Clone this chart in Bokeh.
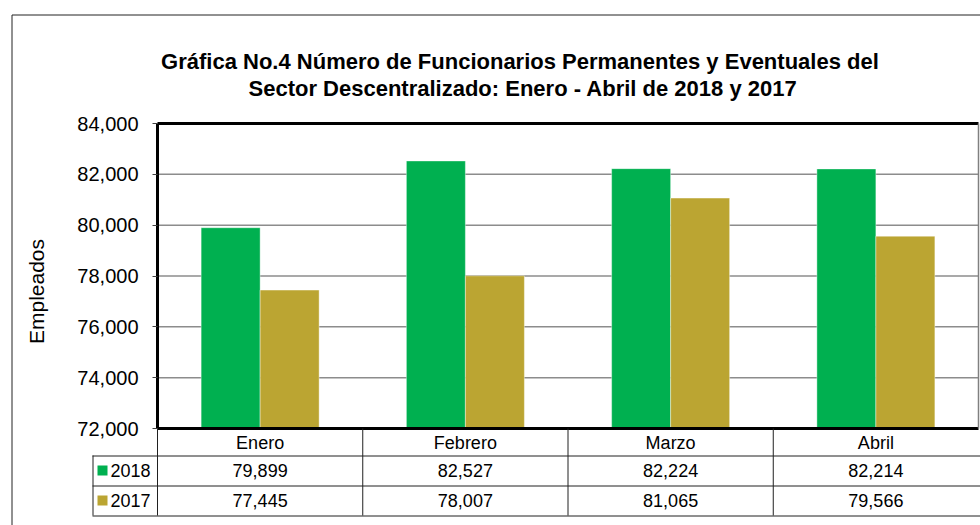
import math
from bokeh.plotting import figure
from bokeh.models import Range1d, FixedTicker, NumeralTickFormatter
from bokeh.core.properties import value
from bokeh.embed import file_html
from bokeh.resources import INLINE

# ---------------- data ----------------
months = ["Enero", "Febrero", "Marzo", "Abril"]
serie_2018 = [79899, 82527, 82224, 82214]
serie_2017 = [77445, 78007, 81065, 79566]
series_names = ["2018", "2017"]
y_ticks = [72000, 74000, 76000, 78000, 80000, 82000, 84000]
title_lines = ["Gráfica No.4  Número de Funcionarios Permanentes y Eventuales del",
               "Sector Descentralizado: Enero - Abril de 2018 y 2017"]
y_label = "Empleados"

# ---------------- style / layout (pixels) ----------------
FONT = "Liberation Sans"
GREEN = "#00B050"
GOLD = "#BBA532"
colors = [GREEN, GOLD]
W, H = 980, 525
PLOT_L, PLOT_R = 157, 978      # plot-area left/right
PLOT_T, PLOT_B = 123, 428      # plot-area top/bottom
PX = (PLOT_R - PLOT_L) / len(months)   # pixels per category
BW = 59 / PX                           # bar width in category units

y0, y1 = y_ticks[0], y_ticks[-1]
VPP = (y1 - y0) / (PLOT_B - PLOT_T)    # value per pixel

p = figure(width=W, height=H,
           x_range=Range1d(-PLOT_L / PX, (W - PLOT_L) / PX),
           y_range=Range1d(y0 - (H - PLOT_B) * VPP, y1 + PLOT_T * VPP),
           output_backend="svg", toolbar_location=None,
           min_border=0, x_axis_type=None)
p.title.visible = False
p.extra_x_ranges = {"px": Range1d(0, W)}
p.extra_y_ranges = {"px": Range1d(H, 0)}
p.outline_line_color = None
p.background_fill_color = "white"
p.border_fill_color = "white"
p.xgrid.visible = False
p.ygrid.visible = False

# y axis drawn at the plot-area left edge
yax = p.yaxis[0]
yax.fixed_location = 0
yax.bounds = (y0, y1)
yax.ticker = FixedTicker(ticks=y_ticks)
yax.formatter = NumeralTickFormatter(format="0,0")
yax.axis_line_color = "black"
yax.axis_line_width = 3
yax.major_tick_out = 5
yax.major_tick_in = 0
yax.major_tick_line_color = "#404040"
yax.minor_tick_line_color = None
yax.major_label_standoff = 14
yax.major_label_text_font = FONT
yax.major_label_text_font_size = "20px"
yax.major_label_text_color = "black"

n = len(months)
# horizontal gridlines at the inner ticks
inner = [float(t) for t in y_ticks[1:-1]]
p.multi_line(xs=[[0.0, float(n)] for _ in inner], ys=[[t, t] for t in inner],
             line_color="#8C8C8C", line_width=1.5)

# bars
xs18 = [i + 0.5 - BW / 2 for i in range(n)]
xs17 = [i + 0.5 + BW / 2 for i in range(n)]
p.vbar(x=xs18, top=serie_2018, bottom=y0, width=BW, fill_color=GREEN,
       line_color="white", line_alpha=0.4, line_width=1)
p.vbar(x=xs17, top=serie_2017, bottom=y0, width=BW, fill_color=GOLD,
       line_color="white", line_alpha=0.4, line_width=1)

# plot-area frame
p.segment(x0=[0, 0], x1=[n, n], y0=[y1, y0], y1=[y1, y0], line_color="black", line_width=3)
p.segment(x0=[n], x1=[n], y0=[y0], y1=[y1], line_color="#808080", line_width=1.5)

# outer chart border
p.segment(x0=[11.5, 11.5], y0=[14.5, 14.5], x1=[11.5, W], y1=[H, 14.5],
          x_range_name="px", y_range_name="px", line_color="#222222", line_width=1)

# title
p.text(x=[522.5, 522.5], y=[61, 88], text=title_lines, x_range_name="px", y_range_name="px",
       text_align="center", text_baseline="middle", text_font=value(FONT),
       text_font_size="22px", text_font_style="bold", text_color="black")

# y label
p.text(x=[36], y=[291], text=[y_label], angle=math.pi / 2, x_range_name="px", y_range_name="px",
       text_align="center", text_baseline="middle", text_font=value(FONT),
       text_font_size="21px", text_color="black")

# ---------------- data table ----------------
ROW_LINES = [455, 485, 515]
ROW_MID = [442, 470, 500]
LEG_L = 92
# vertical lines at category boundaries
p.segment(x0=list(range(n)), x1=list(range(n)), y0=[PLOT_B] * n, y1=[ROW_LINES[-1]] * n,
          y_range_name="px", line_color="#202020", line_width=1)
# legend column & horizontal rules
p.segment(x0=[LEG_L + 0.5] + [LEG_L] * 3, x1=[LEG_L + 0.5] + [W] * 3,
          y0=[ROW_LINES[0]] + [r + 0.5 for r in ROW_LINES],
          y1=[ROW_LINES[-1]] + [r + 0.5 for r in ROW_LINES],
          x_range_name="px", y_range_name="px", line_color="#202020", line_width=1)

cx = [i + 0.5 for i in range(n)]
for row_y, labels in zip(ROW_MID, [months,
                                    [f"{v:,}" for v in serie_2018],
                                    [f"{v:,}" for v in serie_2017]]):
    p.text(x=cx, y=[row_y] * n, text=labels, y_range_name="px",
           text_align="center", text_baseline="middle", text_font=value(FONT),
           text_font_size="18px", text_color="black")

p.rect(x=[102, 102], y=ROW_MID[1:], width=10, height=10, x_range_name="px", y_range_name="px",
       width_units="screen", height_units="screen", fill_color=colors, line_color=None)
p.text(x=[110, 110], y=ROW_MID[1:], text=series_names, x_range_name="px", y_range_name="px",
       text_align="left", text_baseline="middle", text_font=value(FONT),
       text_font_size="18px", text_color="black")

open("out.html", "w").write(file_html(p, INLINE))
